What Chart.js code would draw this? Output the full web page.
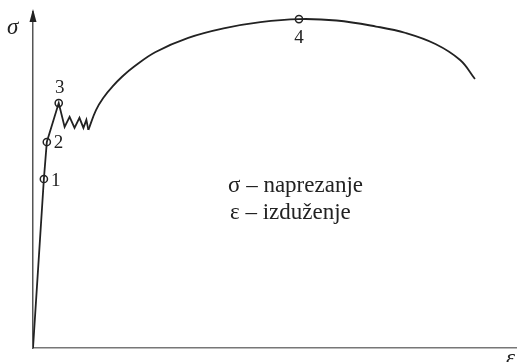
<!DOCTYPE html>
<html>
<head>
<meta charset="utf-8">
<script src="https://cdn.jsdelivr.net/npm/chart.js@4/dist/chart.umd.min.js"></script>
<style>
    body{ margin:0; background:#fff; }
</style>
</head>
<body>
<canvas id="dijagram" width="522" height="362"></canvas>
<script>

// elasticni dio + tecenje (ravne linije)
const epsPocetak = [0, 2.25, 2.86, 5.32, 6.54, 7.57, 8.59, 9.61, 10.43, 11.04, 11.45];
const sigPocetak = [0, 50.3, 61.3, 72.9, 65.8, 68.8, 65.5, 68.5, 65.5, 67.9, 64.9];

// ojacanje i kontrakcija (glatka kriva)
const epsKriva = [11.45, 13.03, 14.72, 16.42, 18.47, 20.86, 25.36, 32.11, 39.67, 47.03, 55.01, 62.78, 70.96, 77.10, 83.23, 88.34, 91.41];
const sigKriva = [64.9, 70.8, 74.8, 77.8, 80.8, 83.7, 88.1, 92.3, 95.2, 97.0, 97.9, 97.47, 95.68, 93.75, 90.48, 85.71, 80.06];

// karakteristicne tacke
const tackeOznake = ["1", "2", "3", "4"];
const tackeEps = [2.25, 2.86, 5.32, 55.01];
const tackeSig = [50.3, 61.3, 72.9, 97.9];

const legendaTekst = ["σ – naprezanje", "ε – izduženje"];

function parovi(xs, ys){
    return xs.map((x, i) => ({ x: x, y: ys[i] }));
}

// oznake tacaka, strelica i tekst
const crtanje = {
    id: "crtanje",
    afterDatasetsDraw(chart){
        const c = chart.ctx;
        const a = chart.chartArea;
        const meta = chart.getDatasetMeta(2);

        c.save();
        c.fillStyle = "#222";
        c.font = "19px 'Liberation Serif', 'DejaVu Serif', serif";
        c.textBaseline = "middle";

        // pomaci za brojeve
        const pomak = [[7, 2, "left"], [7, 1, "left"], [1, -15, "center"], [0, 19, "center"]];
        meta.data.forEach((el, i) => {
            c.textAlign = pomak[i][2];
            c.fillText(tackeOznake[i], el.x + pomak[i][0], el.y + pomak[i][1]);
        });

        // strelica na y osi
        const x0 = a.left;
        c.beginPath();
        c.moveTo(x0, a.top - 3);
        c.lineTo(x0 - 3.5, a.top + 10);
        c.lineTo(x0 + 3.5, a.top + 10);
        c.closePath();
        c.fill();

        // nazivi osa
        c.font = "italic 23px 'Liberation Serif', 'DejaVu Serif', serif";
        c.textAlign = "left";
        c.fillText("σ", 7, 28);
        c.fillText("ε", 506, 359);

        // legenda
        c.font = "23px 'Liberation Serif', 'DejaVu Serif', serif";
        c.fillText(legendaTekst[0], 228, 186);
        c.fillText(legendaTekst[1], 230, 213);
        c.restore();
    }
};

new Chart(document.getElementById("dijagram"), {

    type: "scatter",

    data: {
        datasets: [
            {
                data: parovi(epsPocetak, sigPocetak),
                showLine: true,
                borderColor: "#222",
                borderWidth: 1.8,
                pointRadius: 0,
                tension: 0
            },
            {
                data: parovi(epsKriva, sigKriva),
                showLine: true,
                borderColor: "#222",
                borderWidth: 1.8,
                pointRadius: 0,
                tension: 0.4
            },
            {
                data: parovi(tackeEps, tackeSig),
                showLine: false,
                pointRadius: 3.6,
                pointBorderWidth: 1.5,
                pointBorderColor: "#222",
                pointBackgroundColor: "#fff"
            }
        ]
    },

    options: {
        responsive: false,
        animation: false,
        layout: {
            padding: { left: 33, top: 12, right: 0, bottom: 14 }
        },
        plugins: {
            legend: { display: false },
            tooltip: { enabled: false }
        },
        scales: {
            x: {
                min: 0,
                max: 100,
                ticks: { display: false },
                grid: { display: false, drawTicks: false },
                border: { display: true, color: "#777", width: 1.5 }
            },
            y: {
                min: 0,
                max: 100,
                ticks: { display: false },
                grid: { display: false, drawTicks: false },
                border: { display: true, color: "#555", width: 1.5 }
            }
        }
    },

    plugins: [crtanje]
});
</script>
</body>
</html>
